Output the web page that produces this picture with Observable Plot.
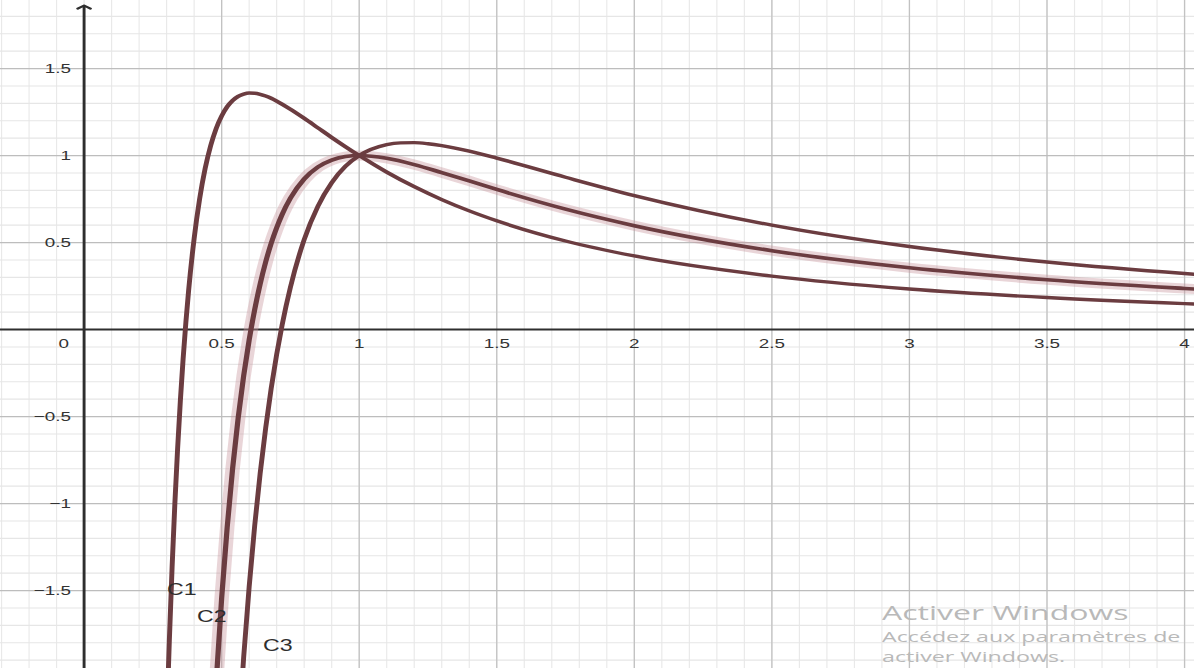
<!DOCTYPE html>
<html>
<head>
<meta charset="utf-8">
<script src="https://cdn.jsdelivr.net/npm/d3@7"></script>
<script src="https://cdn.jsdelivr.net/npm/@observablehq/plot@0.6"></script>
<style>
  body { margin: 0; background: #fff; overflow: hidden; }
  #wrap { position: relative; width: 1194px; height: 668px; overflow: hidden; background: #fff; }
  #wrap svg { transform: scaleX(1.4508); transform-origin: 0 0; display: block; }
  #wm { position: absolute; left: 882px; top: 599px; transform: scaleX(1.6); transform-origin: 0 0;
        color: #b9b9b9; font-family: "Open Sans", "Noto Sans", sans-serif; white-space: nowrap; }
</style>
</head>
<body>
<div id="wrap">
  <div id="wm">
    <div style="font-size:20px;line-height:28px">Activer Windows</div>
    <div style="font-size:14.5px;line-height:20px">Accédez aux paramètres de</div>
    <div style="font-size:14.5px;line-height:20px">activer Windows.</div>
  </div>
</div>
<script>
// ---- Data (three curves C1, C2, C3) ----
const c1X = [0.30,0.31,0.32,0.33,0.34,0.35,0.36,0.37,0.38,0.40,0.42,0.44,0.46,0.48,0.50,0.52,0.54,0.56,0.58,0.60,0.62,0.64,0.66,0.68,0.70,0.75,0.80,0.85,0.90,0.95,1.0,1.1,1.2,1.3,1.4,1.5,1.75,2.0,2.5,3.0,3.5,4.0,4.1];
const c1Y = [-2.266,-1.781,-1.362,-0.998,-0.682,-0.407,-0.167,0.042,0.225,0.523,0.751,0.925,1.056,1.155,1.227,1.280,1.316,1.340,1.353,1.359,1.358,1.352,1.342,1.329,1.313,1.266,1.214,1.159,1.104,1.051,1.000,0.905,0.821,0.747,0.682,0.625,0.509,0.423,0.307,0.233,0.184,0.149,0.143];

const c2X = [0.46,0.48,0.50,0.52,0.54,0.56,0.58,0.60,0.62,0.64,0.66,0.68,0.70,0.72,0.75,0.80,0.85,0.90,0.95,1.0,1.1,1.2,1.3,1.4,1.5,1.75,2.0,2.5,3.0,3.5,4.0,4.1];
const c2Y = [-2.614,-2.031,-1.545,-1.139,-0.797,-0.509,-0.266,-0.060,0.114,0.262,0.388,0.495,0.585,0.662,0.755,0.865,0.934,0.974,0.994,1.000,0.984,0.948,0.902,0.854,0.805,0.692,0.597,0.453,0.355,0.286,0.236,0.227];

const c3X = [0.56,0.58,0.60,0.62,0.64,0.66,0.68,0.70,0.72,0.75,0.80,0.85,0.90,0.95,1.0,1.1,1.15,1.2,1.25,1.3,1.4,1.5,1.75,2.0,2.5,3.0,3.5,4.0,4.1];
const c3Y = [-2.358,-1.885,-1.479,-1.129,-0.827,-0.566,-0.339,-0.143,0.028,0.243,0.517,0.709,0.844,0.938,1.000,1.063,1.073,1.074,1.068,1.057,1.025,0.985,0.875,0.770,0.600,0.477,0.388,0.322,0.311];

// curve labels
const curveNames = ["C1", "C2", "C3"];
const curveLabelX = [0.355, 0.464, 0.704];
const curveLabelY = [-1.494, -1.649, -1.816];

// axes
const xDomain = [-0.303, 4.037];
const yDomain = [-1.948, 1.891];
const yArrowTip = 1.862;
const xTickValues = [0.5, 1, 1.5, 2, 2.5, 3, 3.5, 4];
const xTickLabels = ["0.5", "1", "1.5", "2", "2.5", "3", "3.5", "4"];
const yTickValues = [1.5, 1, 0.5, -0.5, -1, -1.5];
const yTickLabels = ["1.5", "1", "0.5", "\u22120.5", "\u22121", "\u22121.5"];
const xMinor = d3.range(-3, 41).map(i => i / 10);
const yMinor = d3.range(-19, 19).map(i => i / 10);

// ---- build tables ----
const toRows = (xs, ys) => xs.map((x, i) => ({x, y: ys[i]}));
const c1 = toRows(c1X, c1Y), c2 = toRows(c2X, c2Y), c3 = toRows(c3X, c3Y);
const curveLabels = curveNames.map((name, i) => ({name, x: curveLabelX[i], y: curveLabelY[i]}));
const xTicks = xTickValues.map((v, i) => ({v, label: xTickLabels[i]}));
const yTicks = yTickValues.map((v, i) => ({v, label: yTickLabels[i]}));

const curveColor = "#6b3c40";

const chart = Plot.plot({
  width: 823,
  height: 668,
  marginTop: 0, marginRight: 0, marginBottom: 0, marginLeft: 0,
  x: {domain: xDomain, axis: null},
  y: {domain: yDomain, axis: null},
  style: {fontFamily: "'Liberation Sans', Arial, sans-serif", fontSize: "13px", background: "transparent"},
  marks: [
    Plot.ruleX(xMinor, {stroke: "#e9e9e9", strokeWidth: 0.8}),
    Plot.ruleY(yMinor, {stroke: "#e6e6e6", strokeWidth: 1.1}),
    Plot.ruleX(xTickValues, {stroke: "#c2c2c2", strokeWidth: 0.9}),
    Plot.ruleY(yTickValues, {stroke: "#bdbdbd", strokeWidth: 1.3}),
    Plot.ruleY([0], {stroke: "#2e2e2e", strokeWidth: 2}),
    Plot.arrow([0], {x1: d => d, x2: d => d, y1: yDomain[0], y2: yArrowTip,
      stroke: "#2e2e2e", strokeWidth: 2, headLength: 4, headAngle: 110}),
    // selection highlight on C2
    Plot.line(c2, {x: "x", y: "y", curve: "monotone-x", clip: true,
      stroke: "#c9979d", strokeOpacity: 0.4, strokeWidth: 10}),
    Plot.line(c1, {x: "x", y: "y", curve: "monotone-x", clip: true, stroke: curveColor, strokeWidth: 3.4}),
    Plot.line(c2, {x: "x", y: "y", curve: "monotone-x", clip: true, stroke: curveColor, strokeWidth: 3.6}),
    Plot.line(c3, {x: "x", y: "y", curve: "monotone-x", clip: true, stroke: curveColor, strokeWidth: 3.4}),
    // tick labels
    Plot.text(xTicks, {x: "v", y: 0, text: "label", dy: 14, fill: "#333"}),
    Plot.text(["0"], {x: 0, y: 0, text: d => d, dx: -14, dy: 14, fill: "#333"}),
    Plot.text(yTicks, {x: 0, y: "v", text: "label", dx: -9, textAnchor: "end", fill: "#333"}),
    // curve labels
    Plot.text(curveLabels, {x: "x", y: "y", text: "name", fontSize: 16, fill: "#2e2e2e"})
  ]
});

document.getElementById("wrap").prepend(chart);
</script>
</body>
</html>
